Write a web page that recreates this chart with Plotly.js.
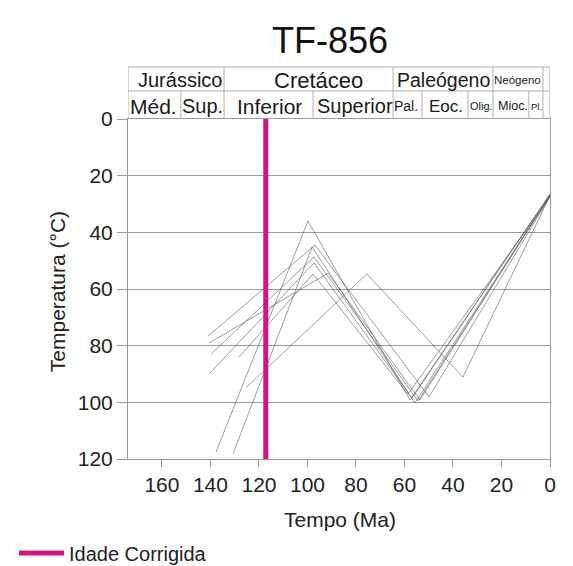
<!DOCTYPE html>
<html>
<head>
<meta charset="utf-8">
<script src="https://cdn.plot.ly/plotly-3.0.1.min.js"></script>
<style>html,body{margin:0;padding:0;background:#fff;}</style>
</head>
<body>
<div id="chart" style="width:573px;height:566px;"></div>
<script>
// ---- data (ages in Ma, temperatures in °C) ----
const pathAges1 = [137.7, 99.8, 57.7, 0];
const pathTemps1 = [117.5, 36.0, 99.2, 26.6];
const pathAges2 = [130.7, 98.1, 55.7, 0];
const pathTemps2 = [118.2, 45.2, 100.2, 27.0];
const pathAges3 = [141.0, 96.9, 49.9, 0];
const pathTemps3 = [76.6, 44.5, 98.1, 27.4];
const pathAges4 = [140.6, 91.5, 53.6, 0];
const pathTemps4 = [79.1, 54.4, 99.2, 26.8];
const pathAges5 = [139.8, 97.3, 54.4, 0];
const pathTemps5 = [83.0, 48.7, 99.5, 27.2];
const pathAges6 = [140.6, 97.3, 56.9, 0];
const pathTemps6 = [90.0, 50.8, 98.5, 26.4];
const pathAges7 = [128.2, 97.7, 58.6, 0];
const pathTemps7 = [84.0, 54.7, 97.1, 27.6];
const pathAges8 = [125.0, 75.5, 35.9, 0];
const pathTemps8 = [94.6, 54.7, 91.1, 27.0];

const correctedAge = [117.2, 117.2];
const correctedTemp = [0, 120];

const xTicks = [160, 140, 120, 100, 80, 60, 40, 20, 0];
const yTicks = [0, 20, 40, 60, 80, 100, 120];

// chronostratigraphic header (ages in Ma)
const periodBounds = [174, 134.4, 64.7, 23.5, 2.9, 0];
const epochBounds = [152.2, 97.7, 52.8, 33.8, 8.7];
const periodLabels = ["Jurássico", "Cretáceo", "Paleógeno", "Neógeno"];
const periodCenters = [152.6, 95.3, 43.9, 13.6];
const periodSizes = [20, 22, 19.5, 11.5];
const epochLabels = ["Méd.", "Sup.", "Inferior", "Superior", "Pal.", "Eoc.", "Olig.", "Mioc.", "Pl."];
const epochCenters = [163.3, 143.1, 115.5, 80.6, 59.2, 42.7, 28.2, 15.3, 5.6];
const epochSizes = [21, 20, 21, 20, 14, 17, 11, 12.5, 9.5];

const FONT = "Liberation Sans, Arial, sans-serif";
const GRID = "#9a9a9a";
const HEAD = "#b0b0b0";

const allAges = [pathAges1, pathAges2, pathAges3, pathAges4, pathAges5, pathAges6, pathAges7, pathAges8];
const allTemps = [pathTemps1, pathTemps2, pathTemps3, pathTemps4, pathTemps5, pathTemps6, pathTemps7, pathTemps8];

const traces = allAges.map((a, i) => ({
  x: a, y: allTemps[i], type: "scatter", mode: "lines",
  line: {color: "rgba(80,80,80,0.7)", width: 0.8},
  showlegend: false, hoverinfo: "skip"
}));
traces.push({
  x: correctedAge, y: correctedTemp, type: "scatter", mode: "lines",
  name: "Idade Corrigida",
  line: {color: "#d4157d", width: 5},
  showlegend: true
});

const yTop = 1.1529, yMid = 1.0824, yBot = 1.0;
const shapes = [];
shapes.push({type: "line", xref: "x", yref: "paper", x0: periodBounds[0], x1: 0, y0: yTop, y1: yTop, line: {color: HEAD, width: 1}});
shapes.push({type: "line", xref: "x", yref: "paper", x0: periodBounds[0], x1: 0, y0: yMid, y1: yMid, line: {color: HEAD, width: 1}});
periodBounds.forEach(b => shapes.push({type: "line", xref: "x", yref: "paper", x0: b, x1: b, y0: yBot, y1: yTop, line: {color: HEAD, width: 1}}));
epochBounds.forEach(b => shapes.push({type: "line", xref: "x", yref: "paper", x0: b, x1: b, y0: yBot, y1: yMid, line: {color: HEAD, width: 1}}));

const annotations = [];
periodLabels.forEach((t, i) => annotations.push({
  text: t, xref: "x", yref: "paper", x: periodCenters[i], y: 1.1147,
  showarrow: false, xanchor: "center", yanchor: "middle",
  font: {family: FONT, size: periodSizes[i], color: "#1a1a1a"}
}));
epochLabels.forEach((t, i) => annotations.push({
  text: t, xref: "x", yref: "paper", x: epochCenters[i], y: 1.037,
  showarrow: false, xanchor: "center", yanchor: "middle",
  font: {family: FONT, size: epochSizes[i], color: "#1a1a1a"}
}));
annotations.push({text: "TF-856", xref: "paper", yref: "paper", x: 0.479, y: 1.232,
  showarrow: false, xanchor: "center", yanchor: "middle", font: {family: FONT, size: 36, color: "#111"}});
annotations.push({text: "Tempo (Ma)", xref: "paper", yref: "paper", x: 0.502, y: -0.179,
  showarrow: false, xanchor: "center", yanchor: "middle", font: {family: FONT, size: 21, color: "#222"}});
annotations.push({text: "Temperatura (°C)", xref: "paper", yref: "paper", x: -0.168, y: 0.491,
  showarrow: false, xanchor: "center", yanchor: "middle", textangle: -90, font: {family: FONT, size: 21, color: "#222"}});

const layout = {
  width: 573, height: 566,
  margin: {l: 128, r: 23, t: 119, b: 107, autoexpand: false},
  paper_bgcolor: "#fff", plot_bgcolor: "#fff",
  font: {family: FONT, color: "#222"},
  showlegend: true,
  legend: {xref: "container", yref: "container", x: 0.0244, y: 0.023, xanchor: "left", yanchor: "middle",
    itemwidth: 45, bgcolor: "rgba(0,0,0,0)",
    font: {family: FONT, size: 20, color: "#222"}},
  xaxis: {range: [174, 0], tickvals: xTicks, ticktext: xTicks.map(String),
    ticks: "outside", ticklen: 7, tickcolor: GRID, showline: true, linecolor: GRID, mirror: true,
    showgrid: false, zeroline: false, tickfont: {size: 21, color: "#222"}},
  yaxis: {range: [120, 0], tickvals: yTicks, ticktext: yTicks.map(String),
    ticks: "outside", ticklen: 10, tickcolor: GRID, showline: true, linecolor: GRID, mirror: true,
    showgrid: true, gridcolor: GRID, gridwidth: 1, zeroline: false, tickfont: {size: 21, color: "#222"}},
  shapes: shapes,
  annotations: annotations
};

Plotly.newPlot("chart", traces, layout, {displayModeBar: false, staticPlot: true});
</script>
</body>
</html>
